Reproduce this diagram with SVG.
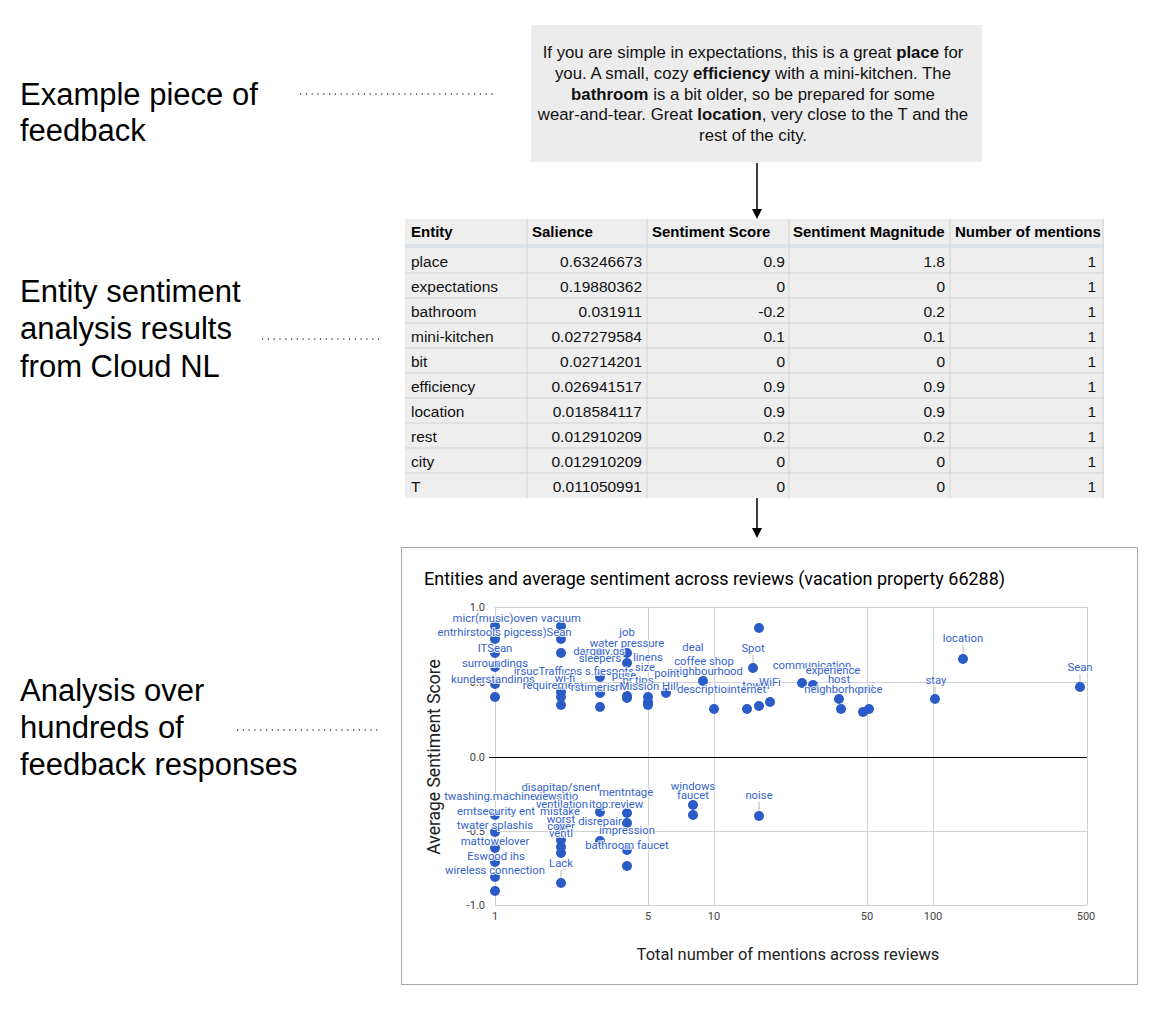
<svg xmlns="http://www.w3.org/2000/svg" width="1152" height="1020" viewBox="0 0 1152 1020">
<style>
.lbl{font-family:"Liberation Sans",Arial,sans-serif;font-size:31px;fill:#000}
.fb{font-family:"Liberation Sans",Arial,sans-serif;font-size:16.8px;fill:#111;text-anchor:middle}
.th{font-family:"Liberation Sans",Arial,sans-serif;font-size:15px;font-weight:bold;fill:#000}
.td{font-family:"Liberation Sans",Arial,sans-serif;font-size:15.5px;fill:#111}
.r{text-anchor:end}
.grid{stroke:#d2d2d2;stroke-width:1}
.tg{stroke:#d3d3d3;stroke-width:1}
.dot{fill:#2b5bc7}
.an{font-family:Roboto,"Liberation Sans",sans-serif;font-size:11.3px;fill:#3563cb;text-anchor:middle;stroke:#fff;stroke-width:2;stroke-opacity:0.85;paint-order:stroke}
.tick{font-family:Roboto,"Liberation Sans",sans-serif;font-size:11px;fill:#444}
.stem{stroke:#b8b8b8;stroke-width:1}
.lead{stroke:#444;stroke-width:1.3;stroke-dasharray:1.2 4.6}
.arr{stroke:#000;stroke-width:1.5;fill:none}
</style>
<defs>
<marker id="ah" markerUnits="userSpaceOnUse" markerWidth="11" markerHeight="11" refX="2" refY="5" orient="auto">
<path d="M0,0 L10,5 L0,10 z" fill="#000"/>
</marker>
</defs>
<rect width="1152" height="1020" fill="#fff"/>

<g id="label-feedback">
<text class="lbl" x="20" y="105">Example piece of</text>
<text class="lbl" x="20" y="141">feedback</text>
</g>
<g id="label-entity">
<text class="lbl" x="20" y="302">Entity sentiment</text>
<text class="lbl" x="20" y="339">analysis results</text>
<text class="lbl" x="20" y="377">from Cloud NL</text>
</g>
<g id="label-analysis">
<text class="lbl" x="20" y="701">Analysis over</text>
<text class="lbl" x="20" y="738">hundreds of</text>
<text class="lbl" x="20" y="775">feedback responses</text>
</g>

<g id="node-feedback">
<rect x="531" y="25" width="451" height="137" fill="#ececec"/>
<text class="fb" x="753" y="58">If you are simple in expectations, this is a great <tspan font-weight="bold">place</tspan> for</text>
<text class="fb" x="753" y="79">you. A small, cozy <tspan font-weight="bold">efficiency</tspan> with a mini-kitchen. The</text>
<text class="fb" x="753" y="100"><tspan font-weight="bold">bathroom</tspan> is a bit older, so be prepared for some</text>
<text class="fb" x="753" y="120">wear-and-tear. Great <tspan font-weight="bold">location</tspan>, very close to the T and the</text>
<text class="fb" x="753" y="141">rest of the city.</text>
</g>

<g id="node-table">
<rect x="405" y="219" width="699" height="279" fill="#eeeeee"/>
<rect x="405" y="244" width="699" height="4" fill="#dce1e9"/>
<g class="tg">
<line x1="405" y1="273" x2="1104" y2="273"/><line x1="405" y1="298" x2="1104" y2="298"/>
<line x1="405" y1="323" x2="1104" y2="323"/><line x1="405" y1="348" x2="1104" y2="348"/>
<line x1="405" y1="373" x2="1104" y2="373"/><line x1="405" y1="398" x2="1104" y2="398"/>
<line x1="405" y1="423" x2="1104" y2="423"/><line x1="405" y1="448" x2="1104" y2="448"/>
<line x1="405" y1="473" x2="1104" y2="473"/>
<line x1="527" y1="219" x2="527" y2="498"/><line x1="647" y1="219" x2="647" y2="498"/>
<line x1="789" y1="219" x2="789" y2="498"/><line x1="950" y1="219" x2="950" y2="498"/>
<line x1="1103" y1="219" x2="1103" y2="498"/>
</g>
<text class="th" x="411" y="237">Entity</text>
<text class="th" x="532" y="237">Salience</text>
<text class="th" x="652" y="237">Sentiment Score</text>
<text class="th" x="793" y="237">Sentiment Magnitude</text>
<text class="th" x="955" y="237">Number of mentions</text>
<g class="td">
<text x="411" y="267">place</text><text class="r" x="642" y="267">0.63246673</text><text class="r" x="785" y="267">0.9</text><text class="r" x="945" y="267">1.8</text><text class="r" x="1096" y="267">1</text>
<text x="411" y="292">expectations</text><text class="r" x="642" y="292">0.19880362</text><text class="r" x="785" y="292">0</text><text class="r" x="945" y="292">0</text><text class="r" x="1096" y="292">1</text>
<text x="411" y="317">bathroom</text><text class="r" x="642" y="317">0.031911</text><text class="r" x="785" y="317">-0.2</text><text class="r" x="945" y="317">0.2</text><text class="r" x="1096" y="317">1</text>
<text x="411" y="342">mini-kitchen</text><text class="r" x="642" y="342">0.027279584</text><text class="r" x="785" y="342">0.1</text><text class="r" x="945" y="342">0.1</text><text class="r" x="1096" y="342">1</text>
<text x="411" y="367">bit</text><text class="r" x="642" y="367">0.02714201</text><text class="r" x="785" y="367">0</text><text class="r" x="945" y="367">0</text><text class="r" x="1096" y="367">1</text>
<text x="411" y="392">efficiency</text><text class="r" x="642" y="392">0.026941517</text><text class="r" x="785" y="392">0.9</text><text class="r" x="945" y="392">0.9</text><text class="r" x="1096" y="392">1</text>
<text x="411" y="417">location</text><text class="r" x="642" y="417">0.018584117</text><text class="r" x="785" y="417">0.9</text><text class="r" x="945" y="417">0.9</text><text class="r" x="1096" y="417">1</text>
<text x="411" y="442">rest</text><text class="r" x="642" y="442">0.012910209</text><text class="r" x="785" y="442">0.2</text><text class="r" x="945" y="442">0.2</text><text class="r" x="1096" y="442">1</text>
<text x="411" y="467">city</text><text class="r" x="642" y="467">0.012910209</text><text class="r" x="785" y="467">0</text><text class="r" x="945" y="467">0</text><text class="r" x="1096" y="467">1</text>
<text x="411" y="492">T</text><text class="r" x="642" y="492">0.011050991</text><text class="r" x="785" y="492">0</text><text class="r" x="945" y="492">0</text><text class="r" x="1096" y="492">1</text>
</g>
</g>

<g id="node-chart">
<rect x="401.5" y="547.5" width="736" height="437" fill="#fff" stroke="#a8a8a8" stroke-width="1"/>
<text x="424" y="585" font-family="Roboto,'Liberation Sans',sans-serif" font-size="18" fill="#000">Entities and average sentiment across reviews (vacation property 66288)</text>
<g class="grid">
<line x1="495" y1="607.5" x2="1087" y2="607.5"/>
<line x1="495" y1="682.5" x2="1087" y2="682.5"/>
<line x1="495" y1="831.5" x2="1087" y2="831.5"/>
<line x1="495" y1="905.5" x2="1087" y2="905.5"/>
<line x1="495.5" y1="607" x2="495.5" y2="905"/>
<line x1="648.5" y1="607" x2="648.5" y2="905"/>
<line x1="714.5" y1="607" x2="714.5" y2="905"/>
<line x1="867.5" y1="607" x2="867.5" y2="905"/>
<line x1="933.5" y1="607" x2="933.5" y2="905"/>
<line x1="1087.5" y1="607" x2="1087.5" y2="905"/>
</g>
<line x1="489" y1="757.5" x2="1087" y2="757.5" stroke="#000" stroke-width="1"/>
<g class="tick" text-anchor="end">
<text x="485" y="611">1.0</text>
<text x="485" y="686">0.5</text>
<text x="485" y="761">0.0</text>
<text x="485" y="835">-0.5</text>
<text x="485" y="909">-1.0</text>
</g>
<g class="tick" text-anchor="middle">
<text x="495" y="920">1</text>
<text x="648" y="920">5</text>
<text x="714" y="920">10</text>
<text x="867" y="920">50</text>
<text x="933" y="920">100</text>
<text x="1086" y="920">500</text>
</g>
<text transform="translate(440,757) rotate(-90)" text-anchor="middle" font-family="Roboto,'Liberation Sans',sans-serif" font-size="17.5" fill="#222">Average Sentiment Score</text>
<text x="788" y="960" text-anchor="middle" font-family="Roboto,'Liberation Sans',sans-serif" font-size="16.5" fill="#222">Total number of mentions across reviews</text>

<g class="stem">
<line x1="963" y1="645" x2="963" y2="655"/>
<line x1="753" y1="655" x2="753" y2="664"/>
<line x1="1080" y1="674" x2="1080" y2="683"/>
<line x1="935" y1="687" x2="935" y2="695"/>
<line x1="759" y1="802" x2="759" y2="812"/>
<line x1="561" y1="870" x2="561" y2="879"/>
<line x1="627" y1="652" x2="627" y2="659"/>
</g>

<g id="points">
<circle class="dot" cx="495" cy="626" r="5"/><circle class="dot" cx="495" cy="639" r="5"/>
<circle class="dot" cx="495" cy="653" r="5"/><circle class="dot" cx="495" cy="667" r="5"/>
<circle class="dot" cx="495" cy="684" r="5"/><circle class="dot" cx="495" cy="697" r="5"/>
<circle class="dot" cx="561" cy="626" r="5"/><circle class="dot" cx="561" cy="639" r="5"/>
<circle class="dot" cx="561" cy="653" r="5"/><circle class="dot" cx="561" cy="692" r="5"/>
<circle class="dot" cx="561" cy="697" r="5"/><circle class="dot" cx="561" cy="705" r="5"/>
<circle class="dot" cx="600" cy="653" r="5"/><circle class="dot" cx="600" cy="677" r="5"/>
<circle class="dot" cx="600" cy="693" r="5"/><circle class="dot" cx="600" cy="707" r="5"/>
<circle class="dot" cx="627" cy="653" r="5"/><circle class="dot" cx="627" cy="663" r="5"/>
<circle class="dot" cx="627" cy="696" r="5"/><circle class="dot" cx="627" cy="698" r="5"/>
<circle class="dot" cx="648" cy="697" r="5"/><circle class="dot" cx="648" cy="702" r="5"/>
<circle class="dot" cx="648" cy="705" r="5"/>
<circle class="dot" cx="666" cy="693" r="5"/>
<circle class="dot" cx="703" cy="681" r="5"/>
<circle class="dot" cx="714" cy="709" r="5"/>
<circle class="dot" cx="747" cy="709" r="5"/>
<circle class="dot" cx="759" cy="628" r="5"/><circle class="dot" cx="753" cy="668" r="5"/>
<circle class="dot" cx="759" cy="706" r="5"/>
<circle class="dot" cx="770" cy="702" r="5"/>
<circle class="dot" cx="802" cy="683" r="5"/><circle class="dot" cx="813" cy="685" r="5"/>
<circle class="dot" cx="839" cy="699" r="5"/><circle class="dot" cx="841" cy="709" r="5"/>
<circle class="dot" cx="863" cy="712" r="5"/><circle class="dot" cx="869" cy="709" r="5"/>
<circle class="dot" cx="935" cy="699" r="5"/>
<circle class="dot" cx="963" cy="659" r="5"/>
<circle class="dot" cx="1080" cy="687" r="5"/>
<circle class="dot" cx="495" cy="815" r="5"/><circle class="dot" cx="495" cy="832" r="5"/>
<circle class="dot" cx="495" cy="848" r="5"/><circle class="dot" cx="495" cy="862" r="5"/>
<circle class="dot" cx="495" cy="877" r="5"/><circle class="dot" cx="495" cy="891" r="5"/>
<circle class="dot" cx="561" cy="826" r="5"/><circle class="dot" cx="561" cy="840" r="5"/>
<circle class="dot" cx="561" cy="847" r="5"/><circle class="dot" cx="561" cy="853" r="5"/>
<circle class="dot" cx="561" cy="883" r="5"/>
<circle class="dot" cx="600" cy="812" r="5"/><circle class="dot" cx="600" cy="841" r="5"/>
<circle class="dot" cx="627" cy="813" r="5"/><circle class="dot" cx="627" cy="823" r="5"/>
<circle class="dot" cx="627" cy="850" r="5"/><circle class="dot" cx="627" cy="866" r="5"/>
<circle class="dot" cx="693" cy="805" r="5"/><circle class="dot" cx="693" cy="815" r="5"/>
<circle class="dot" cx="759" cy="816" r="5"/>
</g>

<g id="annotations" class="an">
<text x="495" y="622">micr(music)oven</text>
<text x="561" y="622">vacuum</text>
<text x="492" y="636">entrhirstools pigcess)</text>
<text x="559" y="636">Sean</text>
<text x="627" y="636">job</text>
<text x="627" y="647">water pressure</text>
<text x="495" y="652">ITSean</text>
<text x="693" y="651">deal</text>
<text x="753" y="652">Spot</text>
<text x="599" y="655">darquiv.gs</text>
<text x="600" y="662">sleepers</text>
<text x="648" y="661">linens</text>
<text x="704" y="665">coffee shop</text>
<text x="495" y="667">surroundings</text>
<text x="645" y="671">size</text>
<text x="574" y="675">irsucTrafficns s.fiespots</text>
<text x="705" y="675">neighbourhood</text>
<text x="624" y="679">puse</text>
<text x="667" y="677">point</text>
<text x="493" y="683">kunderstandings</text>
<text x="565" y="682">wi-fi</text>
<text x="638" y="684">pr.tips</text>
<text x="553" y="689">requirement</text>
<text x="598" y="691">rstimerism</text>
<text x="649" y="690">Mission Hill</text>
<text x="705" y="693">description</text>
<text x="756" y="689">towel</text>
<text x="747" y="693">internet</text>
<text x="770" y="686">WiFi</text>
<text x="812" y="669">communication</text>
<text x="833" y="674">experience</text>
<text x="839" y="683">host</text>
<text x="839" y="693">neighborhood</text>
<text x="870" y="693">price</text>
<text x="936" y="684">stay</text>
<text x="963" y="642">location</text>
<text x="1080" y="671">Sean</text>
<text x="561" y="791">disapitap/snent</text>
<text x="626" y="796">mentntage</text>
<text x="493" y="800">twashing.machines</text>
<text x="556" y="800">viewsitio</text>
<text x="562" y="808">ventilation</text>
<text x="600" y="808">itop:</text>
<text x="627" y="808">review</text>
<text x="496" y="815">emtsecurity ent</text>
<text x="560" y="815">mistake</text>
<text x="561" y="823">worst</text>
<text x="600" y="825">disrepair</text>
<text x="495" y="829">twater splashis</text>
<text x="561" y="830">cover</text>
<text x="627" y="834">impression</text>
<text x="561" y="837">ventl</text>
<text x="495" y="845">mattowelover</text>
<text x="627" y="849">bathroom faucet</text>
<text x="496" y="860">Eswood ihs</text>
<text x="561" y="867">Lack</text>
<text x="495" y="874">wireless connection</text>
<text x="693" y="790">windows</text>
<text x="693" y="799">faucet</text>
<text x="759" y="799">noise</text>
</g>
</g>

<g id="connectors">
<line class="lead" x1="300" y1="94" x2="495" y2="94"/>
<line class="lead" x1="262" y1="339" x2="380" y2="339"/>
<line class="lead" x1="237" y1="730" x2="380" y2="730"/>
<line class="arr" x1="757" y1="163" x2="757" y2="211" marker-end="url(#ah)"/>
<line class="arr" x1="757" y1="498" x2="757" y2="530" marker-end="url(#ah)"/>
</g>
</svg>
